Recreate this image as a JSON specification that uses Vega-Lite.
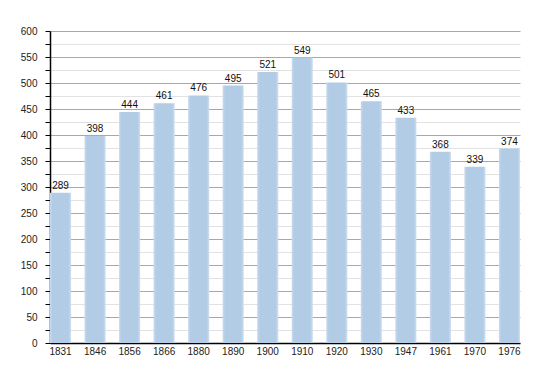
{
  "$schema": "https://vega.github.io/schema/vega-lite/v6.json",
  "autosize": {"type": "none"},
  "width": 470,
  "height": 312,
  "padding": {"left": 50, "top": 31, "right": 30, "bottom": 30},
  "background": "white",
  "data": {"values": [
    {"year": "1831", "pop": 289},
    {"year": "1846", "pop": 398},
    {"year": "1856", "pop": 444},
    {"year": "1866", "pop": 461},
    {"year": "1880", "pop": 476},
    {"year": "1890", "pop": 495},
    {"year": "1900", "pop": 521},
    {"year": "1910", "pop": 549},
    {"year": "1920", "pop": 501},
    {"year": "1930", "pop": 465},
    {"year": "1947", "pop": 433},
    {"year": "1961", "pop": 368},
    {"year": "1970", "pop": 339},
    {"year": "1976", "pop": 374}
  ]},
  "config": {
    "view": {"stroke": null},
    "font": "Liberation Sans",
    "axis": {"labelFont": "Liberation Sans", "labelFontSize": 10, "labelColor": "#222"}
  },
  "encoding": {
    "x": {
      "field": "year", "type": "ordinal", "sort": null,
      "scale": {"paddingInner": 0.39, "paddingOuter": 0},
      "axis": {"title": null, "labelAngle": 0, "ticks": false, "domainColor": "#000", "domainWidth": 1.5, "labelPadding": 3, "grid": false}
    },
    "y": {
      "field": "pop", "type": "quantitative",
      "scale": {"domain": [0, 600], "nice": false},
      "axis": {
        "title": null,
        "values": [0,25,50,75,100,125,150,175,200,225,250,275,300,325,350,375,400,425,450,475,500,525,550,575,600],
        "labelExpr": "datum.value % 50 === 0 ? datum.label : ''",
        "labelOverlap": false,
        "labelPadding": 8,
        "tickSize": 5,
        "tickColor": "#000",
        "domainColor": "#000",
        "domainWidth": 1.5,
        "grid": true,
        "gridColor": {"condition": {"test": "datum.value % 50 === 0", "value": "#a8a8a8"}, "value": "#e2e2e2"}
      }
    }
  },
  "layer": [
    {
      "mark": {
        "type": "bar",
        "color": {
          "gradient": "linear", "x1": 0, "x2": 1, "y1": 0, "y2": 0,
          "stops": [
            {"offset": 0, "color": "#c8daee"},
            {"offset": 0.12, "color": "#b3cce6"},
            {"offset": 0.88, "color": "#b3cce6"},
            {"offset": 1, "color": "#cfdff0"}
          ]
        }
      }
    },
    {
      "mark": {"type": "text", "baseline": "bottom", "dy": -2, "fontSize": 10, "color": "#111"},
      "encoding": {"text": {"field": "pop", "type": "quantitative"}}
    }
  ]
}
